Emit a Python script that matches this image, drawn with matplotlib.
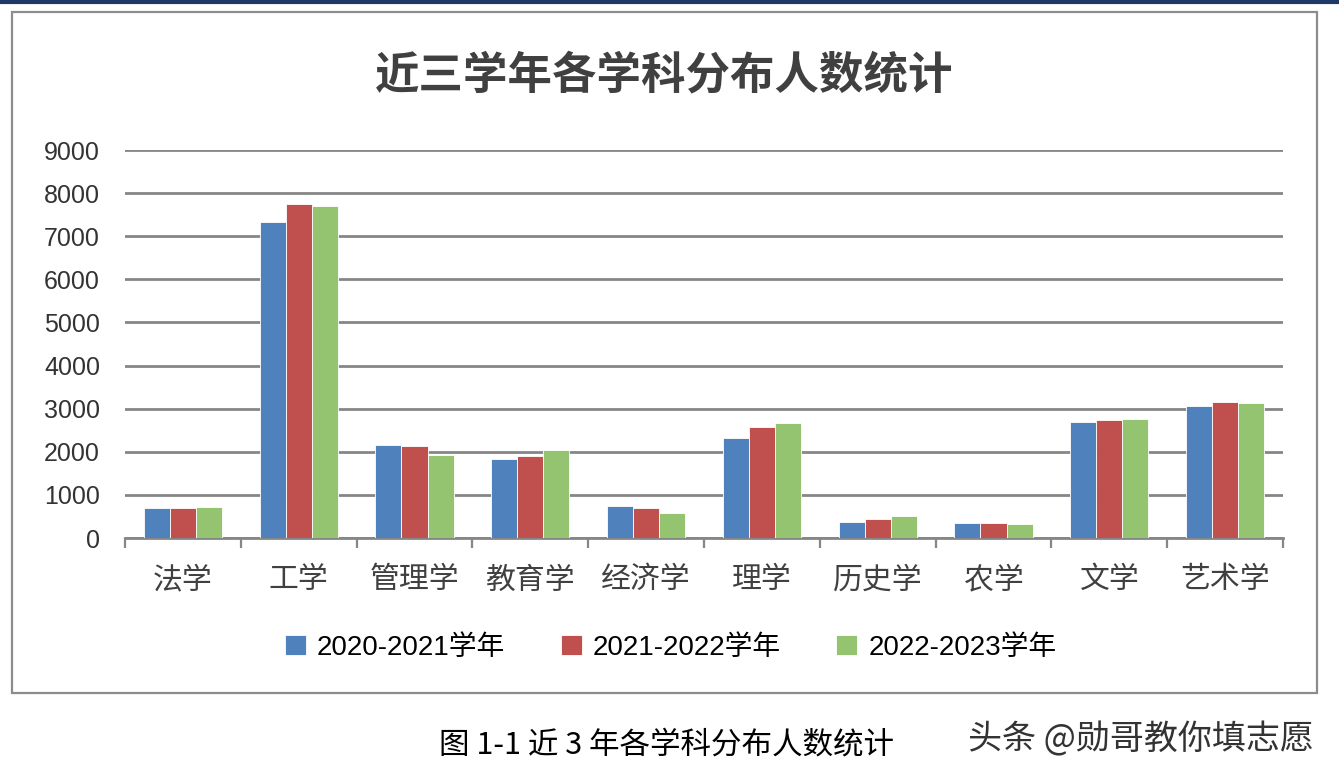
import matplotlib
matplotlib.use('Agg')
import matplotlib.pyplot as plt
from matplotlib.patches import Rectangle
from matplotlib.lines import Line2D
import numpy as np

plt.rcParams['font.family'] = ['Noto Sans CJK SC', 'DejaVu Sans']

categories = ['法学', '工学', '管理学', '教育学', '经济学', '理学', '历史学', '农学', '文学', '艺术学']
series_names = ['2020-2021学年', '2021-2022学年', '2022-2023学年']
y2020 = [690, 7330, 2160, 1830, 740, 2320, 370, 350, 2680, 3060]
y2021 = [690, 7740, 2130, 1900, 690, 2570, 450, 340, 2730, 3160]
y2022 = [720, 7700, 1920, 2040, 575, 2670, 520, 320, 2750, 3140]
yticks = [0, 1000, 2000, 3000, 4000, 5000, 6000, 7000, 8000, 9000]
colors = ['#4F81BD', '#C0504D', '#94C46F']

W, H = 1339, 777
fig = plt.figure(figsize=(W / 100, H / 100), dpi=100)
fig.patch.set_facecolor('white')

# chart frame + top rule
fig.add_artist(Rectangle((12 / W, 1 - 693 / H), (1317 - 12) / W, (693 - 12) / H,
                         transform=fig.transFigure, fill=False,
                         edgecolor='#8C8C8C', linewidth=1.6))
fig.add_artist(Line2D([0, 1], [1 - 1.5 / H, 1 - 1.5 / H], transform=fig.transFigure,
                      color='#1F3864', linewidth=3))

ax = fig.add_axes([125 / W, 1 - 538 / H, (1283 - 125) / W, (538 - 150) / H])
x = np.arange(len(categories))
bw = 0.225
for i, (vals, name) in enumerate(zip([y2020, y2021, y2022], series_names)):
    ax.bar(x + (i - 1) * bw, vals, width=bw, color=colors[i], edgecolor='white',
           linewidth=0.6, label=name, zorder=3)

ax.set_xlim(-0.5, len(categories) - 0.5)
ax.set_ylim(0, 9000)
ax.set_yticks(yticks)
ax.set_yticklabels([str(v) for v in yticks], family=['Liberation Sans', 'DejaVu Sans'],
                   fontsize=18, color='#333333')
ax.yaxis.grid(True, color='#868686', linewidth=2, zorder=0)
ax.set_axisbelow(True)
ax.tick_params(axis='y', length=0, pad=18)

ax.set_xticks(x)
ax.set_xticklabels(categories, fontsize=21.5, color='#404040')
ax.tick_params(axis='x', which='major', length=0, pad=19)
ax.set_xticks(np.arange(-0.5, len(categories), 1.0), minor=True)
ax.tick_params(axis='x', which='minor', length=7, width=1.6, color='#868686', direction='out')

for side in ['left', 'right', 'top']:
    ax.spines[side].set_visible(False)
ax.spines['bottom'].set_color('#868686')
ax.spines['bottom'].set_linewidth(2)

fig.text(0.496, 1 - 75 / H, '近三学年各学科分布人数统计', ha='center', va='center',
         fontsize=32, fontweight='bold', color='#404040')

handles, labels = ax.get_legend_handles_labels()
fig.legend(handles, labels, loc='center', bbox_to_anchor=(0.501, 1 - 648 / H), ncol=3,
           frameon=False, handlelength=0.75, handleheight=0.75, handletextpad=0.4,
           columnspacing=2.0, prop={'family': ['Liberation Sans', 'Noto Sans CJK SC'], 'size': 20})

fig.text(0.498, 1 - 745 / H, '图 1-1 近 3 年各学科分布人数统计', ha='center', va='center',
         fontsize=22, color='black')
fig.text(0.852, 1 - 740 / H, '头条 @勋哥教你填志愿', ha='center', va='center',
         fontsize=24.5, color='#333333')

fig.savefig('out.png', dpi=100)
